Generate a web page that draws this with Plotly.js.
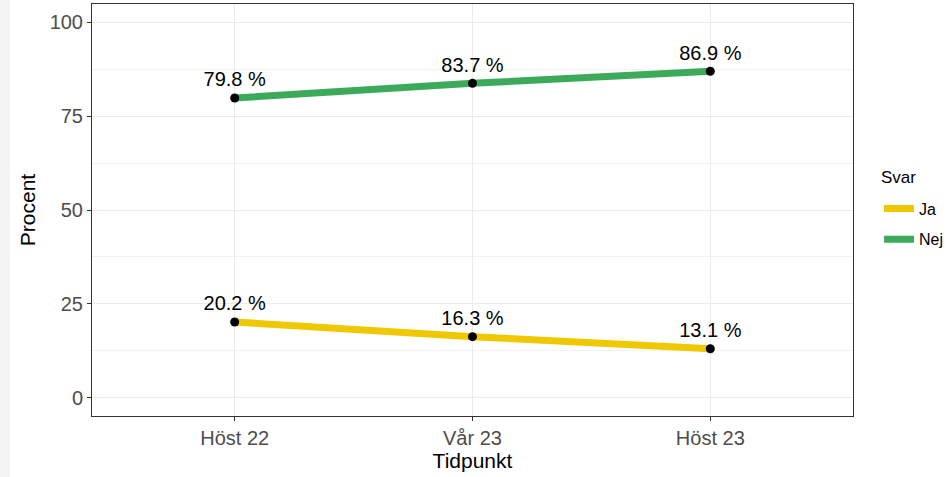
<!DOCTYPE html>
<html><head><meta charset="utf-8">
<script src="https://cdn.plot.ly/plotly-3.0.1.min.js"></script>
<style>
html,body{margin:0;padding:0;background:#f3f3f3;}
#chart{position:absolute;left:10px;top:0;width:937px;height:477px;background:#fff;}
</style></head>
<body><div id="chart"></div>
<script>
const categories = ["Höst 22", "Vår 23", "Höst 23"];
const seriesNames = ["Ja", "Nej"];
const jaValues = [20.2, 16.3, 13.1];
const nejValues = [79.8, 83.7, 86.9];
const colors = {"Ja": "#F0C800", "Nej": "#3CAA5A"};
const yTicks = [0, 25, 50, 75, 100];
const legendTitle = "Svar";

const fmt = v => v.toFixed(1) + " %";
const vals = {"Ja": jaValues, "Nej": nejValues};
const traces = [];
seriesNames.forEach(n => {
  traces.push({x: categories, y: vals[n], mode: "lines", name: n, legendgroup: n,
    line: {color: colors[n], width: 7}, hoverinfo: "skip"});
});
seriesNames.forEach(n => {
  traces.push({x: categories, y: vals[n], mode: "markers+text", showlegend: false,
    legendgroup: n,
    marker: {color: "#000", size: 9}, text: vals[n].map(fmt),
    textposition: "top center", textfont: {size: 20, color: "#000"}});
});

const layout = {
  width: 937, height: 477,
  margin: {l: 82, r: 94, t: 4, b: 61},
  paper_bgcolor: "#fff", plot_bgcolor: "#fff",
  font: {family: "Liberation Sans, Arial, sans-serif"},
  xaxis: {type: "category", range: [-0.6, 2.6], showgrid: true, gridcolor: "#ebebeb",
    gridwidth: 1, showline: true, mirror: true, linecolor: "#333", linewidth: 1,
    ticks: "outside", ticklen: 4, tickcolor: "#333", zeroline: false,
    tickfont: {size: 20, color: "#4d4d4d"},
    title: {text: "Tidpunkt", font: {size: 21, color: "#000"}, standoff: 4}},
  yaxis: {range: [-4.8, 104.8], tickvals: yTicks, showgrid: true, gridcolor: "#ebebeb",
    showline: true, mirror: true, linecolor: "#333", linewidth: 1, zeroline: false,
    ticks: "outside", ticklen: 4, tickcolor: "#333",
    minor: {dtick: 12.5, tick0: 0, showgrid: true, gridcolor: "#f3f3f3", ticks: ""},
    tickfont: {size: 20, color: "#4d4d4d"},
    title: {text: "Procent", font: {size: 21, color: "#000"}, standoff: 8}},
  legend: {xref: "container", yref: "container", x: 0.9275, y: 0.5985,
    xanchor: "left", yanchor: "top",
    font: {size: 16, color: "#000"}, tracegroupgap: 7},
  annotations: [{text: legendTitle, xref: "paper", yref: "paper", x: 1.034, y: 0.58,
    xanchor: "left", yanchor: "middle", showarrow: false,
    font: {size: 17, color: "#000"}}],
  showlegend: true
};
Plotly.newPlot("chart", traces, layout, {displayModeBar: false, staticPlot: true});
</script></body></html>
